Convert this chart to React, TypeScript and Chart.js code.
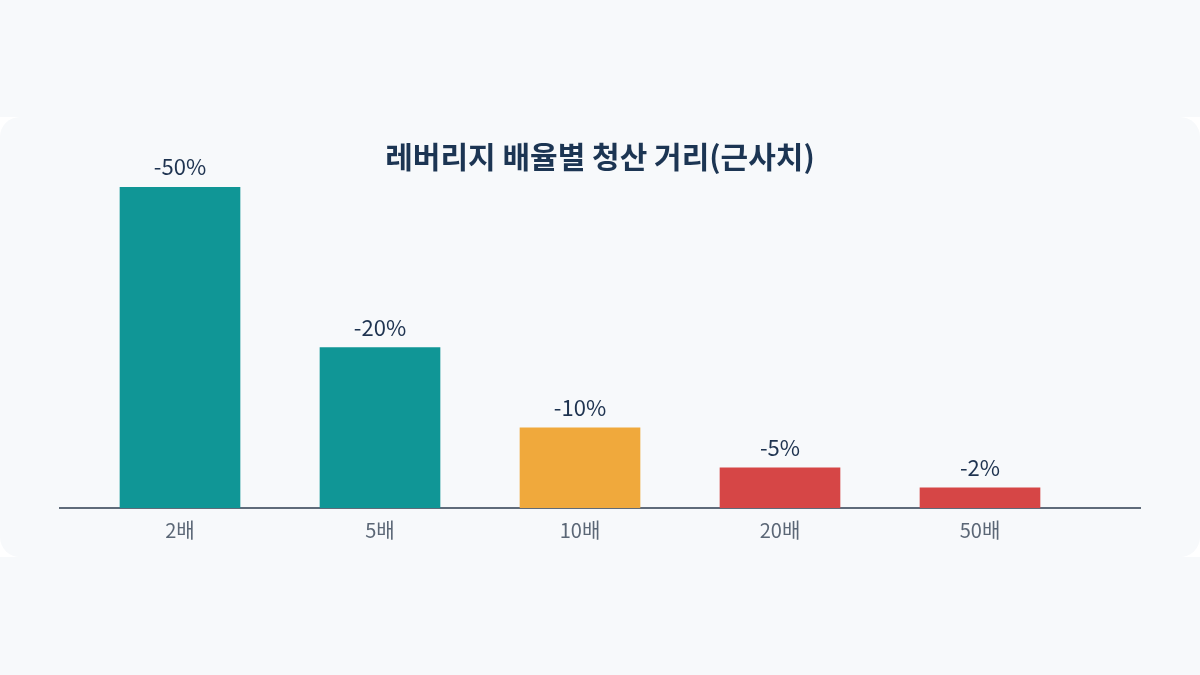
import React, { useEffect, useRef } from "react";
import { Chart, registerables } from "chart.js";

Chart.register(...registerables);

// Categories (leverage multiples)
const leverageLabels = ["2배", "5배", "10배", "20배", "50배"];
// Liquidation distance labels shown above bars
const liquidationDistance = [-50, -20, -10, -5, -2];
// Relative bar heights as drawn in the reference
const barHeights = [16, 8, 4, 2, 1];
const barColors = ["#109696", "#109696", "#F0A93C", "#D64646", "#D64646"];

const TITLE = "레버리지 배율별 청산 거리(근사치)";
const FONT = "'Noto Sans CJK KR', 'Noto Sans', sans-serif";

const valueLabelPlugin = {
  id: "valueLabels",
  afterDatasetsDraw(chart: any) {
    const { ctx } = chart;
    const meta = chart.getDatasetMeta(0);
    ctx.save();
    ctx.font = `22px ${FONT}`;
    ctx.fillStyle = "#1E3350";
    ctx.textAlign = "center";
    ctx.textBaseline = "bottom";
    meta.data.forEach((bar: any, i: number) => {
      ctx.fillText(`${liquidationDistance[i]}%`, bar.x, bar.y - 9);
    });
    ctx.restore();
  },
};

export default function App() {
  const canvasRef = useRef<HTMLCanvasElement | null>(null);

  useEffect(() => {
    document.body.style.margin = "0";
    document.body.style.background = "#F7F9FB";
    const canvas = canvasRef.current;
    if (!canvas) return;
    const chart = new Chart(canvas, {
      type: "bar",
      data: {
        datasets: [
          {
            data: barHeights.map((h, i) => ({ x: i, y: h })),
            backgroundColor: barColors,
            borderWidth: 0,
            barThickness: 120,
          },
        ],
      },
      options: {
        animation: false,
        responsive: false,
        maintainAspectRatio: false,
        layout: { padding: { left: 60, right: 60, top: 0, bottom: 5 } },
        plugins: {
          legend: { display: false },
          tooltip: { enabled: false },
          title: {
            display: true,
            text: TITLE,
            color: "#1C3553",
            font: { family: FONT, size: 30, weight: "bold" },
            padding: { top: 22, bottom: 12 },
          },
        },
        scales: {
          x: {
            type: "linear",
            offset: false,
            bounds: "data",
            min: -0.6,
            max: 4.8,
            afterBuildTicks: (scale: any) => {
              scale.ticks = leverageLabels.map((_, i) => ({ value: i }));
            },
            grid: { display: false, drawTicks: false },
            border: { display: true, color: "#5F6B7A", width: 2 },
            ticks: {
              color: "#5B6776",
              font: { family: FONT, size: 20 },
              padding: 10,
              autoSkip: false,
              maxRotation: 0,
              callback: (v: any) => leverageLabels[Number(v)] ?? "",
            },
          },
          y: {
            display: false,
            min: 0,
            max: 16,
          },
        },
      },
      plugins: [valueLabelPlugin],
    });
    return () => chart.destroy();
  }, []);

  return (
    <div style={{ position: "fixed", inset: 0, background: "#F7F9FB" }}>
      <div
        style={{
          position: "absolute",
          left: 0,
          top: 117,
          width: 1200,
          height: 440,
          background: "#FFFFFF",
        }}
      >
        <div
          style={{
            width: 1200,
            height: 440,
            background: "#F7F9FB",
            borderRadius: 20,
          }}
        >
          <canvas ref={canvasRef} width={1200} height={440} style={{ display: "block" }} />
        </div>
      </div>
    </div>
  );
}
